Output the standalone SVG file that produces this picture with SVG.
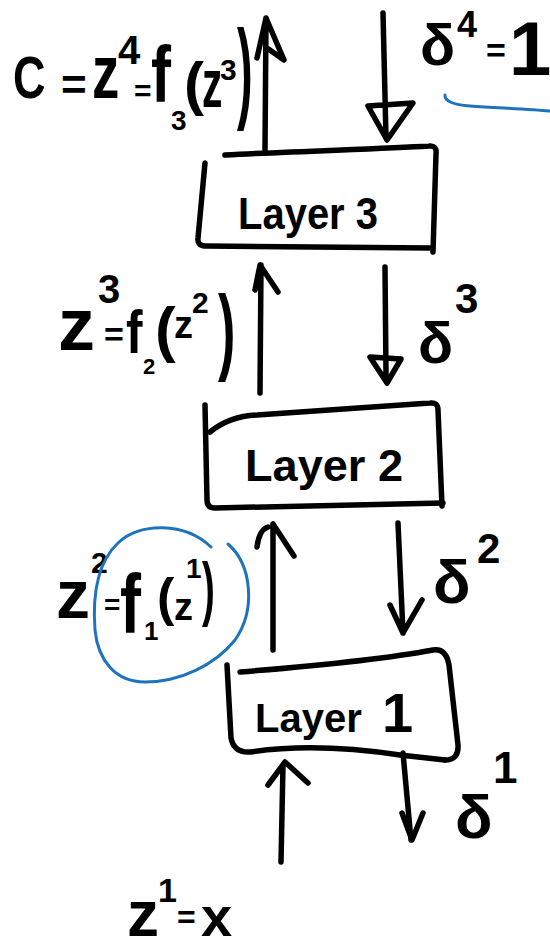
<svg xmlns="http://www.w3.org/2000/svg" width="550" height="952" viewBox="0 0 550 952">
<style>
.ink{fill:none;stroke:#000;stroke-width:5.5;stroke-linecap:round;stroke-linejoin:round}
.blue{fill:none;stroke:#1e73be;stroke-width:3;stroke-linecap:round}
text{font-family:"Liberation Sans","DejaVu Sans",sans-serif;fill:#000;font-weight:bold}
</style>
<rect width="550" height="952" fill="#fff"/>
<g id="connectors">
<path class="ink" d="M265,150 L266,18 M257,58 L266,18 L284,60 L267,48"/>
<path class="ink" d="M383,13 L386,138 M368,106 L413,103 L387,140 Z"/>
<path class="ink" d="M260,393 L261,265 M255,290 L260,265 L278,292"/>
<path class="ink" d="M385,267 L386,375 M370,357 L401,359 L387,383 Z"/>
<path class="ink" d="M273,650 L273,524 M257,547 Q259,530 268,527 M273,524 L294,556"/>
<path class="ink" d="M398,523 L403,633 M390,605 L403,633 L422,600"/>
<path class="ink" d="M281,862 L283,765 M268,785 L285,762 L308,783"/>
<path class="ink" d="M403,753 L411,840 M402,813 L412,840 L423,813"/>
</g>
<g id="layer3">
<path class="ink" d="M225,155 C300,151 380,149 429,146 Q437,145 436,154 L433,252"/>
<path class="ink" d="M205,163 L198,238 Q197,246 206,246 L430,248"/>
<text x="238" y="229" font-size="44" textLength="140" lengthAdjust="spacingAndGlyphs">Layer 3</text>
</g>
<g id="layer2">
<path class="ink" d="M210,432 Q230,416 257,415 L430,403 Q438,402 438,410 L442,506"/>
<path class="ink" d="M205,405 L207,500 Q207,508 215,508 L443,503"/>
<text x="245" y="481" font-size="44" textLength="158" lengthAdjust="spacingAndGlyphs">Layer 2</text>
</g>
<g id="layer1">
<path class="ink" d="M240,672 C290,668 380,660 433,650 Q446,648 449,665 L458,745 Q459,760 445,760"/>
<path class="ink" d="M227,665 L231,738 Q234,753 250,752 C290,746 340,746 400,755 L445,760"/>
<text x="255" y="732" font-size="40">Layer <tspan x="382" font-size="56">1</tspan></text>
</g>
<g id="label-c">
<text transform="translate(13,98) scale(0.75,1)" font-size="60">C</text>
<text x="61" y="100" font-size="44">=</text>
<text transform="translate(92,98) scale(0.72,1)" font-size="76">z</text>
<text x="118" y="64" font-size="40">4</text>
<text x="134" y="101" font-size="30">=</text>
<text transform="translate(151,102) scale(0.75,1)" font-size="80">f</text>
<text x="171" y="130" font-size="28">3</text>
<text x="184" y="104" font-size="60">(</text>
<text transform="translate(202,107) scale(0.6,1)" font-size="68">z</text>
<text x="220" y="80" font-size="30">3</text>
<text transform="translate(237,108) scale(0.42,1)" font-size="112">)</text>
</g>
<g id="label-d4">
<text x="420" y="65" font-size="58">δ</text>
<text x="457" y="37" font-size="36">4</text>
<text x="486" y="62" font-size="34">=</text>
<text x="509" y="75" font-size="76">1</text>
<path class="blue" d="M445,95 Q444,104 470,106 C500,108 530,109 549,111"/>
</g>
<g id="label-z3">
<text x="58" y="350" font-size="74">z</text>
<text x="98" y="303" font-size="40">3</text>
<text x="104" y="346" font-size="34">=</text>
<text transform="translate(126,353) scale(0.8,1)" font-size="62">f</text>
<text x="143" y="374" font-size="22">2</text>
<text x="155" y="350" font-size="62">(</text>
<text x="174" y="338" font-size="38">z</text>
<text x="192" y="313" font-size="30">2</text>
<text transform="translate(218,362) scale(0.55,1)" font-size="95">)</text>
</g>
<g id="label-d3">
<text x="418" y="363" font-size="58">δ</text>
<text x="455" y="313" font-size="42">3</text>
</g>
<g id="label-z2">
<text x="56" y="618" font-size="68">z</text>
<text x="91" y="573" font-size="30">2</text>
<text x="104" y="614" font-size="28">=</text>
<text transform="translate(120,633) scale(0.75,1)" font-size="84">f</text>
<text x="144" y="640" font-size="26">1</text>
<text x="157" y="615" font-size="52">(</text>
<text x="174" y="620" font-size="38">z</text>
<text x="186" y="578" font-size="28">1</text>
<text transform="translate(202,612) scale(0.55,1)" font-size="70">)</text>
<path class="blue" d="M228,544 C252,565 256,610 235,640 C215,665 180,682 145,682 C115,682 98,660 95,630 C92,590 100,560 118,543 C140,522 185,522 211,547"/>
</g>
<g id="label-d2">
<text x="433" y="603" font-size="62">δ</text>
<text x="477" y="563" font-size="42">2</text>
</g>
<g id="label-d1">
<text x="455" y="838" font-size="62">δ</text>
<text x="493" y="783" font-size="44">1</text>
</g>
<g id="label-z1">
<text x="127" y="936" font-size="64">z</text>
<text x="158" y="902" font-size="34">1</text>
<text x="177" y="928" font-size="32">=</text>
<text x="201" y="936" font-size="56">x</text>
</g>
</svg>
